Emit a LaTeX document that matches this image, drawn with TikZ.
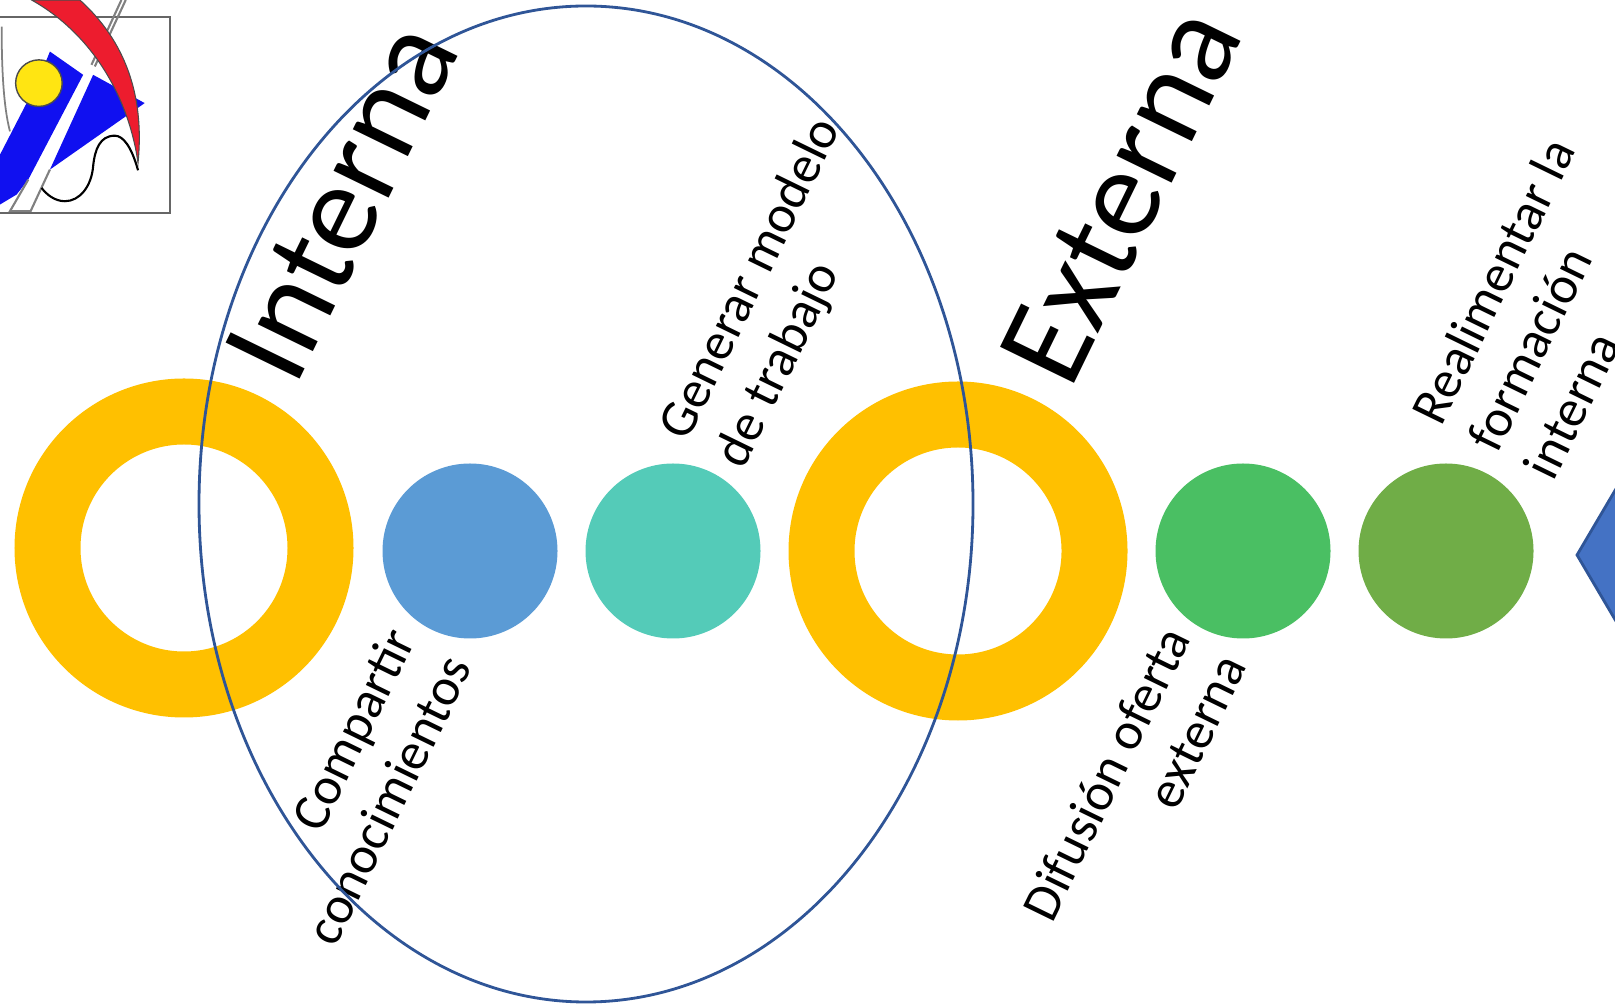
\documentclass[tikz,border=0pt]{standalone}
\usepackage{fontspec}
\setmainfont{Carlito}
\definecolor{ringColor}{HTML}{FFC000}
\definecolor{lineColor}{HTML}{2F5597}
\definecolor{diamondColor}{HTML}{4472C4}
\definecolor{logoBlue}{HTML}{1010F0}
\definecolor{logoRed}{HTML}{ED1C2E}
\definecolor{logoYellow}{HTML}{FFE512}
\tikzset{
  ring/.style={circle,draw=ringColor,line width=0.66cm,minimum size=2.73cm,inner sep=0pt},
  disc/.style={circle,minimum size=1.75cm,inner sep=0pt},
  bigLabel/.style={rotate=64,font=\fontsize{36.5}{44}\selectfont},
  smallLabel/.style={rotate=64,font=\fontsize{15}{17.8}\selectfont},
}
\begin{document}
\begin{tikzpicture}
    \clip (0,0) rectangle (16.15,10.05);

    % logo
    \begin{scope}[shift={(0,10.05)},x=0.00333cm,y=-0.00333cm]
      \draw [gray!80!black,line width=0.6pt] (0,50) -- (510,50) -- (510,640) -- (0,640);
      \draw [gray,line width=0.5pt] (5,80) .. controls (5,200) and (10,320) .. (30,395);
      \fill [logoBlue] (150,155) -- (250,225) -- (85,540) -- (50,585) -- (0,615) -- (0,465) -- (80,310) -- (140,180) -- cycle;
      \fill [logoBlue] (280,225) -- (435,310) -- (150,510) -- cycle;
      \draw [gray,line width=0.6pt] (85,540) -- (30,635) -- (92,635) -- (150,510);
      \draw [gray,line width=0.6pt] (275,195) -- (365,0);
      \draw [gray,line width=0.6pt] (285,200) -- (378,0);
      \draw [black,line width=0.6pt] (415,512) .. controls (395,440) and (370,408) .. (345,408)
        .. controls (300,408) and (285,450) .. (280,500) .. controls (275,560) and (240,605) .. (195,605)
        .. controls (165,605) and (140,585) .. (125,565);
      \draw [black!70,fill=logoRed,line width=0.3pt] (240,0) .. controls (340,90) and (440,240) .. (415,490)
        .. controls (390,310) and (290,110) .. (95,0) -- cycle;
      \draw [black!70,fill=logoYellow,line width=0.4pt] (117,250) circle (70);
    \end{scope}

    \node [ring] (ringInterna) at (1.84,4.57) {};
    \node [ring] (ringExterna) at (9.58,4.54) {};
    \node [disc,fill={rgb,255:red,91;green,155;blue,213}] (discCompartir) at (4.70,4.54) {};
    \node [disc,fill={rgb,255:red,84;green,203;blue,184}] (discGenerar) at (6.73,4.54) {};
    \node [disc,fill={rgb,255:red,74;green,191;blue,99}] (discDifusion) at (12.43,4.54) {};
    \node [disc,fill={rgb,255:red,112;green,173;blue,71}] (discRealimentar) at (14.46,4.54) {};

    \draw [lineColor,line width=0.8pt,fill=diamondColor] (15.77,4.50) -- (16.30,5.40) -- (16.30,3.60) -- cycle;

    \node [bigLabel] (labelInterna) at (3.42,8.04) {Interna};
    \node [bigLabel] (labelExterna) at (11.21,8.10) {Externa};
    \node [smallLabel,align=left] (labelGenerar) at (7.80,7.12) {Generar modelo\\de trabajo};
    \node [smallLabel,align=right] (labelCompartir) at (3.60,2.19) {Compartir\\conocimientos};
    \node [smallLabel,align=right] (labelDifusion) at (11.34,2.18) {Difusión oferta\\externa};
    \node [smallLabel,align=left] (labelRealimentar) at (15.49,6.97) {Realimentar la\\formación\\interna};

    \draw [lineColor,line width=0.8pt] (5.86,5.01) ellipse (3.87 and 4.98);
\end{tikzpicture}
\end{document}
